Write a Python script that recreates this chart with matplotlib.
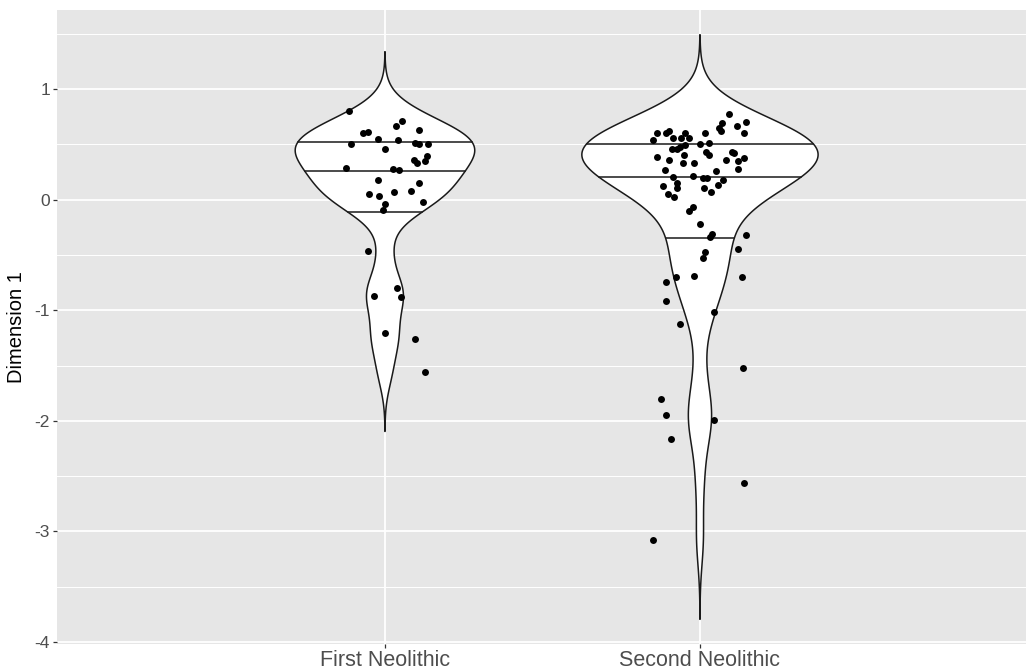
import numpy as np
import matplotlib
matplotlib.use("Agg")
import matplotlib.pyplot as plt

# ---- data -------------------------------------------------------------
groups = ["First Neolithic", "Second Neolithic"]

first_dim1 = [0.798, 0.708, 0.663, 0.605, 0.614, 0.627, 0.548, 0.539, 0.503,
              0.514, 0.503, 0.503, 0.455, 0.394, 0.358, 0.331, 0.349, 0.283,
              0.274, 0.265, 0.177, 0.150, 0.051, 0.030, 0.066, 0.080, -0.022,
              -0.037, -0.091, -0.467, -0.797, -0.869, -0.883, -1.206, -1.260,
              -1.556]
first_jitter = [-0.113, 0.054, 0.036, -0.071, -0.055, 0.109, -0.021, 0.040,
                -0.108, 0.095, 0.109, 0.137, 0.000, 0.133, 0.092, 0.101, 0.127,
                -0.125, 0.024, 0.045, -0.021, 0.108, -0.050, -0.018, 0.029,
                0.083, 0.121, 0.000, -0.007, -0.054, 0.039, -0.036, 0.050,
                0.000, 0.096, 0.128]

second_dim1 = [0.771, 0.702, 0.693, 0.663, 0.650, 0.620, 0.599, 0.602, 0.602,
               0.620, 0.602, 0.605, 0.542, 0.554, 0.554, 0.560, 0.494, 0.505,
               0.514, 0.478, 0.458, 0.455, 0.428, 0.403, 0.433, 0.419, 0.403,
               0.385, 0.355, 0.328, 0.334, 0.355, 0.346, 0.373, 0.265, 0.274,
               0.256, 0.207, 0.211, 0.198, 0.198, 0.177, 0.147, 0.120, 0.102,
               0.108, 0.132, 0.048, 0.026, 0.071, -0.070, -0.106, -0.223,
               -0.308, -0.338, -0.323, -0.447, -0.476, -0.528, -0.697, -0.691,
               -0.703, -0.748, -0.914, -1.019, -1.125, -1.523, -1.803, -1.950,
               -1.990, -2.167, -2.562, -3.075]
second_jitter = [0.092, 0.146, 0.070, 0.118, 0.060, 0.067, 0.139, -0.136,
                 -0.108, -0.097, -0.048, 0.016, -0.148, -0.087, -0.060, -0.034,
                 -0.047, 0.001, 0.030, -0.063, -0.089, -0.072, 0.019, 0.030,
                 0.101, 0.109, -0.050, -0.137, -0.097, -0.055, -0.020, 0.082,
                 0.122, 0.139, -0.111, 0.120, 0.052, -0.085, -0.022, 0.009,
                 0.023, 0.074, -0.074, -0.117, -0.074, 0.012, 0.056, -0.103,
                 -0.083, 0.035, -0.022, -0.036, 0.001, 0.037, 0.033, 0.145,
                 0.120, 0.017, 0.010, -0.077, -0.020, 0.135, -0.107, -0.107,
                 0.044, -0.064, 0.137, -0.124, -0.109, 0.044, -0.092, 0.139,
                 -0.150]

quantiles = [0.25, 0.5, 0.75]
y_ticks = [-4, -3, -2, -1, 0, 1]


# ---- density helpers (R-style gaussian kernel, bw.nrd0, cut = 3) --------
def bw_nrd0(x):
    x = np.asarray(x, float)
    sd = np.std(x, ddof=1)
    q75, q25 = np.percentile(x, [75, 25])
    lo = min(sd, (q75 - q25) / 1.34)
    return 0.9 * lo * len(x) ** -0.2


def violin_density(x, adjust=1.0, cut=3, n=512):
    x = np.asarray(x, float)
    bw = bw_nrd0(x) * adjust
    grid = np.linspace(x.min() - cut * bw, x.max() + cut * bw, n)
    z = (grid[:, None] - x[None, :]) / bw
    dens = np.exp(-0.5 * z ** 2).sum(axis=1) / (len(x) * bw * np.sqrt(2 * np.pi))
    return grid, dens


# ---- figure -------------------------------------------------------------
plt.rcParams["font.family"] = ["Liberation Sans", "DejaVu Sans"]
fig = plt.figure(figsize=(10.26, 6.71), dpi=100)
ax = fig.add_axes([0.0556, 0.0402, 0.9444, 0.9456])
ax.set_facecolor("#E6E6E6")

values = [first_dim1, second_dim1]
jitters = [first_jitter, second_jitter]
positions = [1, 2]
half_widths = [0.285, 0.375]   # widest half-width of each violin (x units)

for pos, v, hw in zip(positions, values, half_widths):
    grid, dens = violin_density(v, adjust=1.03)
    half = dens / dens.max() * hw
    xs = np.concatenate([pos - half, (pos + half)[::-1]])
    ys = np.concatenate([grid, grid[::-1]])
    ax.fill(xs, ys, facecolor="white", edgecolor="#1a1a1a", linewidth=1.1,
            zorder=3)
    cdf = np.cumsum(dens) / dens.sum()
    for q in quantiles:
        yq = np.interp(q, cdf, grid)
        wq = np.interp(yq, grid, half)
        ax.plot([pos - wq, pos + wq], [yq, yq], color="#1a1a1a",
                linewidth=1.1, zorder=4)

for pos, v, j in zip(positions, values, jitters):
    ax.scatter(pos + np.asarray(j), v, s=25, color="black", linewidths=0,
               zorder=5)

# axes, grid, ticks
ax.set_xlim(-0.041, 3.035)
ax.set_ylim(-4.018, 1.719)
ax.set_xticks(positions)
ax.set_xticklabels(groups)
ax.set_yticks(y_ticks)
ax.set_yticklabels([str(t) for t in y_ticks])
ax.set_yticks(np.arange(-3.5, 2.0, 1.0), minor=True)

ax.grid(which="major", color="white", linewidth=1.3, zorder=0)
ax.grid(which="minor", axis="y", color="white", linewidth=0.7, zorder=0)
ax.set_axisbelow(True)
for s in ax.spines.values():
    s.set_visible(False)

ax.tick_params(axis="both", which="major", length=3, width=0.9,
               color="#333333", labelcolor="#4D4D4D", labelsize=12.5, pad=2)
ax.tick_params(axis="x", labelsize=15.5, pad=1)
ax.tick_params(which="minor", length=0)
ax.set_ylabel("Dimension 1", fontsize=14.5, color="black", labelpad=6)

fig.savefig("out.png", dpi=100, facecolor="white")
